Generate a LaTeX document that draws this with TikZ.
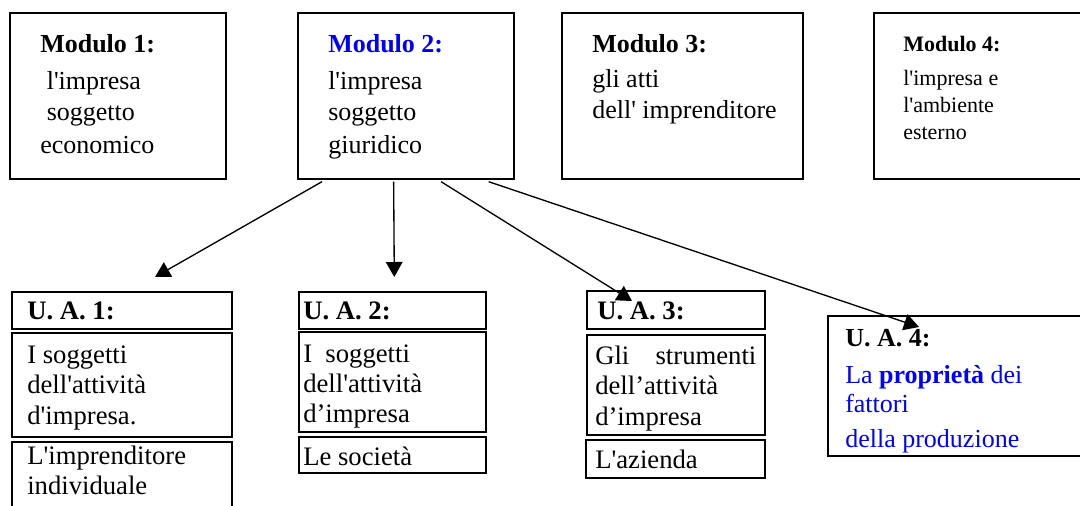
\documentclass[tikz,border=0pt]{standalone}
\usepackage{fontspec}
\setmainfont{Liberation Serif}[Ligatures=TeXOff]
\usetikzlibrary{arrows.meta,fit,calc}
\definecolor{wblue}{RGB}{0,0,255}
\newcommand\mystack[1]{\vtop{\baselineskip=0pt\lineskip=0pt\lineskiplimit=-\maxdimen #1}}
\begin{document}
\begin{tikzpicture}[x=0.75pt,y=-0.75pt,
  mbox/.style={draw,line width=1pt,inner sep=0pt},
  ubox/.style={draw,line width=1.5pt,inner sep=0pt},
  mtxt/.style={anchor=base west,inner sep=0pt,font=\fontsize{19.5}{23}\selectfont},
  stxt/.style={anchor=base west,inner sep=0pt,font=\fontsize{16.5}{20}\selectfont},
  utxt/.style={anchor=base west,inner sep=0pt,font=\fontsize{20}{24}\selectfont},
  arr/.style={line width=1pt,-{Triangle[length=11.25pt,width=12.5pt]}}]
\useasboundingbox (0,0) rectangle (1080,506);
\clip (0,0) rectangle (1080,506);
% top boxes
\node[mbox,fit={(10,13)(226,179)}] (m1) {};
\node[mbox,fit={(298,13)(514,179)}] (m2) {};
\node[mbox,fit={(562,13)(803,179)}] (m3) {};
\node[mbox,fit={(874,13)(1095,179)}] (m4) {};
\node[mtxt] (m1t) at (40,52.5) {\mystack{\hbox{\bfseries Modulo 1:}\vskip27.4pt\hbox{\kern4.9pt l'impresa}\vskip23.6pt\hbox{\kern4.9pt soggetto}\vskip25.1pt\hbox{economico}}};
\node[mtxt] (m2t) at (328,52.5) {\mystack{\hbox{\bfseries\color{wblue}Modulo 2:}\vskip27.4pt\hbox{l'impresa}\vskip23.6pt\hbox{soggetto}\vskip25.1pt\hbox{giuridico}}};
\node[mtxt] (m3t) at (592,52.5) {\mystack{\hbox{\bfseries Modulo 3:}\vskip26pt\hbox{gli atti}\vskip23.6pt\hbox{dell' imprenditore}}};
\node[stxt] (m4t) at (903,52) {\mystack{\hbox{\bfseries Modulo 4:}\vskip25.5pt\hbox{l'impresa e}\vskip20.25pt\hbox{l'ambiente}\vskip20.25pt\hbox{esterno}}};
% bottom boxes
\node[ubox,fit={(12,292)(232,329)}] (u1h) {};
\node[ubox,fit={(12,333)(232,437)}] (u1b) {};
\draw[line width=1.5pt] (12,520) -- (12,442) -- (232,442) -- (232,520);
\coordinate (u1c) at (12,442);
\node[ubox,fit={(299,292)(486,329)}] (u2h) {};
\node[ubox,fit={(299,332)(486,432)}] (u2b) {};
\node[ubox,fit={(299,437)(486,473)}] (u2c) {};
\node[ubox,fit={(587,291)(765,329)}] (u3h) {};
\node[ubox,fit={(587,335)(765,435)}] (u3b) {};
\node[ubox,fit={(586,440)(765,478)}] (u3c) {};
\node[ubox,fit={(828,316)(1095,456)}] (u4) {};
% bottom texts
\node[utxt] (u1ht) at (27,319) {\bfseries U. A. 1:};
\node[utxt] (u1bt) at (27,363) {\mystack{\hbox{I soggetti}\vskip22.5pt\hbox{dell'attività}\vskip23.25pt\hbox{d'impresa.}}};
\node[utxt] (u1ct) at (27,464) {\mystack{\hbox{L'imprenditore}\vskip22.5pt\hbox{individuale}}};
\node[utxt] (u2ht) at (303,319) {\bfseries U. A. 2:};
\node[utxt] (u2bt) at (303,362) {\mystack{\hbox{I\ \ soggetti}\vskip22.5pt\hbox{dell'attività}\vskip22.5pt\hbox{d’impresa}}};
\node[utxt] (u2ct) at (303,465) {Le società};
\node[utxt] (u3ht) at (597,319) {\bfseries U. A. 3:};
\node[utxt] (u3bt) at (595,364) {\mystack{\hbox to 120.8pt{Gli\hfill strumenti}\vskip22.5pt\hbox{dell’attività}\vskip23.25pt\hbox{d’impresa}}};
\node[utxt] (u3ct) at (595,468) {L'azienda};
\node[mtxt] (u4ht) at (845,346) {\bfseries U. A. 4:};
\node[mtxt,text=wblue] (u4bt) at (845,383) {\mystack{\hbox{La \textbf{proprietà} dei}\vskip22.1pt\hbox{fattori}\vskip26.6pt\hbox{della produzione}}};
% arrows
\coordinate (a1) at (155,277);
\coordinate (a2) at (394.3,277);
\coordinate (a3) at (632,301);
\coordinate (a4) at (919,327);
\draw[arr] ($(m2.south west)+(24.7,2)$) -- (a1);
\draw[arr] ($(m2.south west)+(96.3,2)$) -- (a2);
\draw[arr] ($(m2.south west)+(143.7,2)$) -- (a3);
\draw[arr] ($(m2.south west)+(191.3,2)$) -- (a4);
\end{tikzpicture}
\end{document}
